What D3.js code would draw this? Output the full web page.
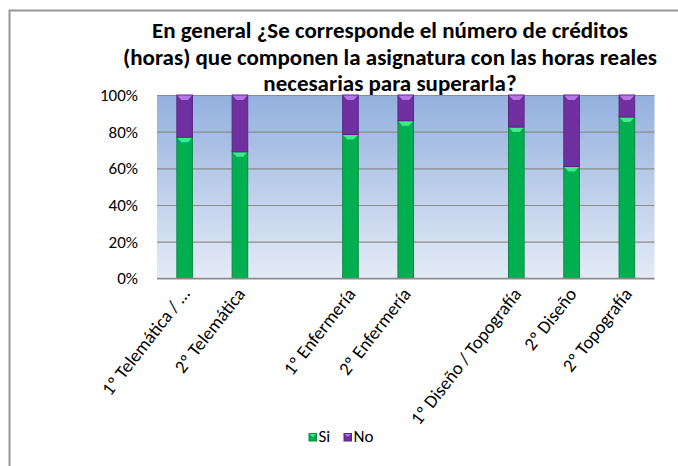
<!DOCTYPE html>
<html>
<head>
<meta charset="utf-8">
<script src="https://cdn.jsdelivr.net/npm/d3@7/dist/d3.min.js"></script>
<style>
  body { margin: 0; background: #fff; }
  svg { display: block; font-family: Carlito, Calibri, Lato, "Open Sans", sans-serif; }
</style>
</head>
<body>
<div id="chart"></div>
<script>
// chart data
const titleLines = [
  "En general ¿Se corresponde el número de créditos",
  "(horas) que componen la  asignatura con las horas reales",
  "necesarias para superarla?"
];
const categories = ["1º Telemática / …", "2º Telemática", "", "1º Enfermería", "2º Enfermería", " ",
  "1º Diseño / Topografía", "2º Diseño", "2º Topografía"];
const siValues = [77, 69, null, 78.5, 86, null, 82.5, 61, 88];
const noValues = [23, 31, null, 21.5, 14, null, 17.5, 39, 12];
const seriesNames = ["Si", "No"];
const yTicks = [0, 20, 40, 60, 80, 100];

const width = 678, height = 466;
const plot = { left: 157, right: 654.5, top: 95, bottom: 278.3 };
const labelSize = 17;

const svg = d3.select("#chart").append("svg")
  .attr("width", width)
  .attr("height", height);

const defs = svg.append("defs");
const grad = defs.append("linearGradient")
  .attr("id", "bg").attr("x1", 0).attr("y1", 0).attr("x2", 0).attr("y2", 1);
grad.append("stop").attr("offset", "0%").attr("stop-color", "#93b0de");
grad.append("stop").attr("offset", "100%").attr("stop-color", "#e4ebf6");

// outer frame (only left and top visible)
svg.append("path")
  .attr("d", `M9.5,${height} L9.5,10.5 L${width},10.5`)
  .attr("fill", "none")
  .attr("stroke", "#969696")
  .attr("stroke-width", 2);

// title, fitted to the reference width
const title = svg.append("g")
  .attr("font-weight", "bold")
  .attr("fill", "#000")
  .attr("text-anchor", "middle");
const baselines = [38, 64.5, 91];
const titleText = title.selectAll("text")
  .data(titleLines)
  .join("text")
  .attr("x", 390)
  .attr("y", (d, i) => baselines[i])
  .attr("font-size", 18)
  .text(d => d);
const w2 = titleText.nodes()[1].getComputedTextLength();
titleText.attr("font-size", 18 * 534 / w2);

const x = d3.scaleBand()
  .domain(categories)
  .range([plot.left, plot.right])
  .paddingInner(0.7)
  .paddingOuter(0.35);

const y = d3.scaleLinear()
  .domain([0, 100])
  .range([plot.bottom, plot.top]);

svg.append("rect")
  .attr("x", plot.left).attr("y", plot.top)
  .attr("width", plot.right - plot.left)
  .attr("height", plot.bottom - plot.top)
  .attr("fill", "url(#bg)");

// y axis with gridlines
const yAxis = svg.append("g")
  .attr("transform", `translate(${plot.left},0)`)
  .call(d3.axisLeft(y).tickValues(yTicks).tickFormat(d => d + "%")
    .tickSize(-(plot.right - plot.left)).tickPadding(19));
yAxis.attr("font-family", null).attr("font-size", null);
yAxis.select(".domain").remove();
yAxis.selectAll(".tick line").attr("stroke", "#8c8c8c").attr("stroke-width", 1.2);
yAxis.selectAll(".tick text")
  .attr("font-size", labelSize)
  .attr("fill", "#000");

// stacked bars
const rows = categories.map((c, i) => ({ cat: c, si: siValues[i], no: noValues[i] }))
  .filter(d => d.si != null);
const stack = d3.stack().keys(["si", "no"])(rows);
const fills = ["#00b050", "#7030a0"];
const strokes = ["#0b8a43", "#5b2585"];
const bevels = ["#46e88c", "#b676e6"];

const layers = svg.append("g").selectAll("g")
  .data(stack)
  .join("g");

layers.each(function(layer, li) {
  const g = d3.select(this);
  g.selectAll("rect")
    .data(layer)
    .join("rect")
    .attr("x", d => x(d.data.cat) + 0.5)
    .attr("y", d => y(d[1]))
    .attr("width", x.bandwidth() - 1)
    .attr("height", d => y(d[0]) - y(d[1]))
    .attr("fill", fills[li])
    .attr("stroke", strokes[li])
    .attr("stroke-width", 1);
  g.selectAll("path")
    .data(layer)
    .join("path")
    .attr("d", d => {
      const x0 = x(d.data.cat) + 1, x1 = x0 + x.bandwidth() - 2, t = y(d[1]) + 0.5;
      return `M${x0},${t} L${x1},${t} L${x1 - 4},${t + 4.5} L${x0 + 4},${t + 4.5} Z`;
    })
    .attr("fill", bevels[li]);
});

// x axis
svg.append("line")
  .attr("x1", plot.left).attr("x2", plot.right)
  .attr("y1", plot.bottom).attr("y2", plot.bottom)
  .attr("stroke", "#8c8c8c").attr("stroke-width", 1.2);

svg.append("g").selectAll("text")
  .data(categories.filter(c => c.trim() !== ""))
  .join("text")
  .attr("transform", d => `translate(${x(d) + x.bandwidth() / 2 + 6},${plot.bottom + 16}) rotate(-52)`)
  .attr("text-anchor", "end")
  .attr("font-size", 18.5)
  .attr("fill", "#000")
  .text(d => d);

// legend
const legendX = [309, 344];
const legend = svg.append("g").selectAll("g")
  .data(seriesNames)
  .join("g")
  .attr("transform", (d, i) => `translate(${legendX[i]},433.5)`);
legend.append("rect")
  .attr("width", 7.5).attr("height", 7.5)
  .attr("fill", (d, i) => fills[i])
  .attr("stroke", (d, i) => strokes[i]);
legend.append("path")
  .attr("d", "M0.5,0.5 L7,0.5 L3.75,3.5 Z")
  .attr("fill", (d, i) => bevels[i]);
legend.append("text")
  .attr("x", 9.5).attr("y", 8.5)
  .attr("font-size", labelSize)
  .attr("fill", "#000")
  .text(d => d);
</script>
</body>
</html>
